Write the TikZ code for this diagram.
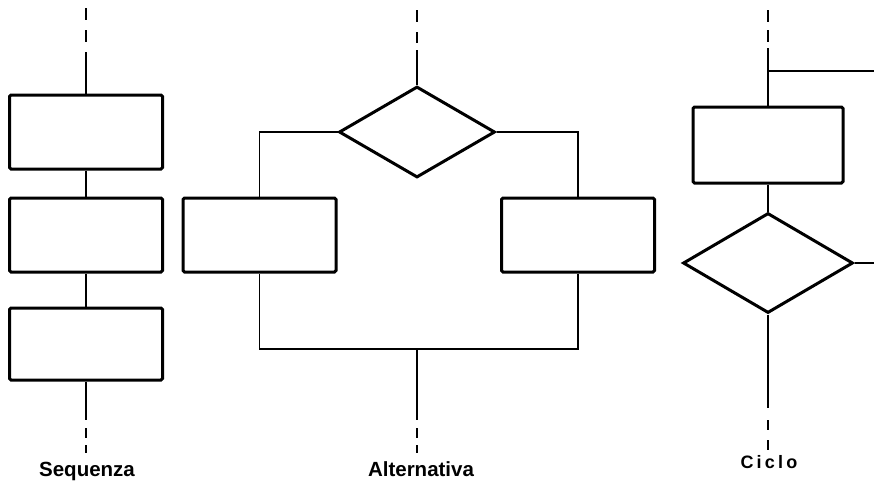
\documentclass[tikz,border=0pt]{standalone}
\usepackage{fontspec}
\setsansfont{Liberation Sans}
\newfontfamily\ciclofont[LetterSpace=18]{Liberation Sans}
\usetikzlibrary{shapes.geometric}

\begin{document}
\begin{tikzpicture}[x=1pt,y=-1pt,
	blocco/.style={draw, rectangle, line width=3pt, rounded corners=1.5pt,
		minimum width=153pt, minimum height=74pt, inner sep=0pt},
	test/.style={draw, diamond, line width=3pt, inner sep=0pt},
	linea/.style={line width=1.6pt},
	tratto/.style={line width=1.6pt, dash pattern=on 12pt off 10pt},
	coda/.style={line width=1.6pt, dash pattern=on 10pt off 7pt},
	titolo/.style={anchor=base, font=\sffamily\bfseries\fontsize{20.5}{24}\selectfont}]

	\useasboundingbox (0,0) rectangle (874,480);

	% sequenza
	\node[blocco] (s1) at (86,132) {};
	\node[blocco] (s2) at (86,235) {};
	\node[blocco, minimum height=72pt] (s3) at (86,344) {};
	\coordinate (s in a) at (86,8);
	\coordinate (s in b) at (86,44);
	\coordinate (s in) at (86,52);
	\coordinate (s out) at (86,420);
	\coordinate (s out a) at (86,428);
	\coordinate (s out b) at (86,453);
	\draw[tratto] (s in a) -- (s in b);
	\draw[linea] (s in) -- (s1.north);
	\draw[linea] (s1.south) -- (s2.north);
	\draw[linea] (s2.south) -- (s3.north);
	\draw[linea] (s3.south) -- (s out);
	\draw[coda] (s out a) -- (s out b);
	\node[titolo] (s lab) at (87,476) {Sequenza};

	% alternativa
	\node[test, minimum width=156pt, minimum height=91pt] (a0) at (417,132) {};
	\node[blocco] (aL) at (259.5,235) {};
	\node[blocco] (aR) at (578,235) {};
	\coordinate (a in a) at (417,10);
	\coordinate (a in b) at (417,43);
	\coordinate (a in) at (417,50);
	\coordinate (aj) at (417,349);
	\coordinate (a out) at (417,420);
	\coordinate (a out a) at (417,428);
	\coordinate (a out b) at (417,453);
	\draw[tratto] (a in a) -- (a in b);
	\draw[linea] (a in) -- (a0.north);
	\draw[linea] (a0.west) -| (aL.north);
	\draw[linea] (a0.east) -| (aR.north);
	\draw[linea] (aL.south) |- (aj) -| (aR.south);
	\draw[linea] (aj) -- (a out);
	\draw[coda] (a out a) -- (a out b);
	\node[titolo] (a lab) at (421,476) {Alternativa};

	% ciclo
	\node[blocco, minimum width=150pt, minimum height=76pt] (c1) at (768,145) {};
	\node[test, minimum width=170pt, minimum height=100pt] (c2) at (768,263) {};
	\coordinate (c in a) at (768,10);
	\coordinate (c in b) at (768,42);
	\coordinate (c in) at (768,48);
	\coordinate (c ret) at (768,71);
	\coordinate (c ret end) at (874,71);
	\coordinate (c exit) at (874,263);
	\coordinate (c out) at (768,408);
	\coordinate (c out a) at (768,420);
	\coordinate (c out b) at (768,450);
	\draw[tratto, dash pattern=on 12pt off 8pt] (c in a) -- (c in b);
	\draw[linea] (c in) -- (c1.north);
	\draw[linea] (c ret) -- (c ret end);
	\draw[linea] (c1.south) -- (c2.north);
	\draw[linea] (c2.east) -- (c exit);
	\draw[linea] (c2.south) -- (c out);
	\draw[coda, dash pattern=on 10pt off 10pt] (c out a) -- (c out b);
	\node[anchor=base, font=\ciclofont\bfseries\fontsize{18}{21}\selectfont]
		(c lab) at (769,468) {Ciclo};

\end{tikzpicture}
\end{document}
